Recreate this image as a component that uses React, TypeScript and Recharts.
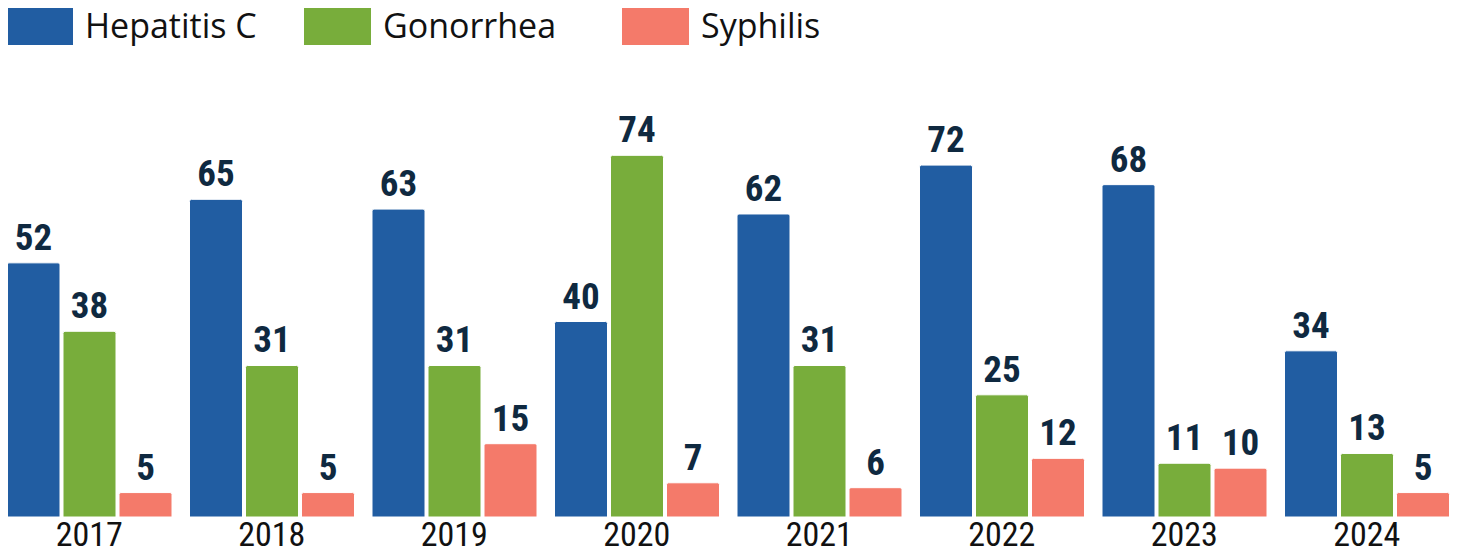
import { Bar, BarChart, LabelList, Legend, XAxis, YAxis } from 'recharts'

const years = ['2017', '2018', '2019', '2020', '2021', '2022', '2023', '2024']
const hepatitisC = [52, 65, 63, 40, 62, 72, 68, 34]
const gonorrhea = [38, 31, 31, 74, 31, 25, 11, 13]
const syphilis = [5, 5, 15, 7, 6, 12, 10, 5]

const series = [
  { key: 'hepatitisC', name: 'Hepatitis C', color: '#215da2', width: 298 },
  { key: 'gonorrhea', name: 'Gonorrhea', color: '#78ad3b', width: 318 },
  { key: 'syphilis', name: 'Syphilis', color: '#f47a6a', width: 200 },
]

const data = years.map((year, i) => ({
  year,
  hepatitisC: hepatitisC[i],
  gonorrhea: gonorrhea[i],
  syphilis: syphilis[i],
}))

const narrow = '"Liberation Sans Narrow", "Roboto Condensed", "Arial Narrow", sans-serif'

function LegendBox() {
  return (
    <div style={{ display: 'flex', height: 50, paddingLeft: 6, paddingTop: 5, boxSizing: 'border-box' }}>
      {series.map((s) => (
        <div key={s.key} style={{ display: 'flex', width: s.width, alignItems: 'flex-start' }}>
          <div style={{ width: 67, height: 40, background: s.color }} />
          <span
            style={{
              marginLeft: 12,
              fontFamily: '"Open Sans", sans-serif',
              fontSize: 34,
              lineHeight: '40px',
              color: '#111',
            }}
          >
            {s.name}
          </span>
        </div>
      ))}
    </div>
  )
}

export default function App() {
  return (
    <div style={{ margin: -8, background: '#fff' }}>
      <BarChart
        width={1461}
        height={556}
        data={data}
        margin={{ top: 76, right: 3, bottom: 0, left: -2 }}
        barGap={3}
        barSize={53}
      >
        <Legend
          verticalAlign="top"
          align="left"
          height={50}
          wrapperStyle={{ top: 0, left: 0 }}
          content={<LegendBox />}
        />
        <XAxis
          dataKey="year"
          axisLine={false}
          tickLine={false}
          height={39}
          interval={0}
          tickSize={4}
          tickMargin={1}
          tick={{ fontFamily: narrow, fontSize: 34, fill: '#111' }}
        />
        <YAxis hide domain={[0, 80]} />
        {series.map((s) => (
          <Bar
            key={s.key}
            dataKey={s.key}
            name={s.name}
            fill={s.color}
            stroke="#ffffff"
            strokeWidth={1}
            radius={[2, 2, 0, 0]}
            isAnimationActive={false}
          >
            <LabelList
              dataKey={s.key}
              position="top"
              offset={13}
              fill="#0f2940"
              fontFamily={narrow}
              fontSize={37}
              fontWeight="bold"
            />
          </Bar>
        ))}
      </BarChart>
    </div>
  )
}
